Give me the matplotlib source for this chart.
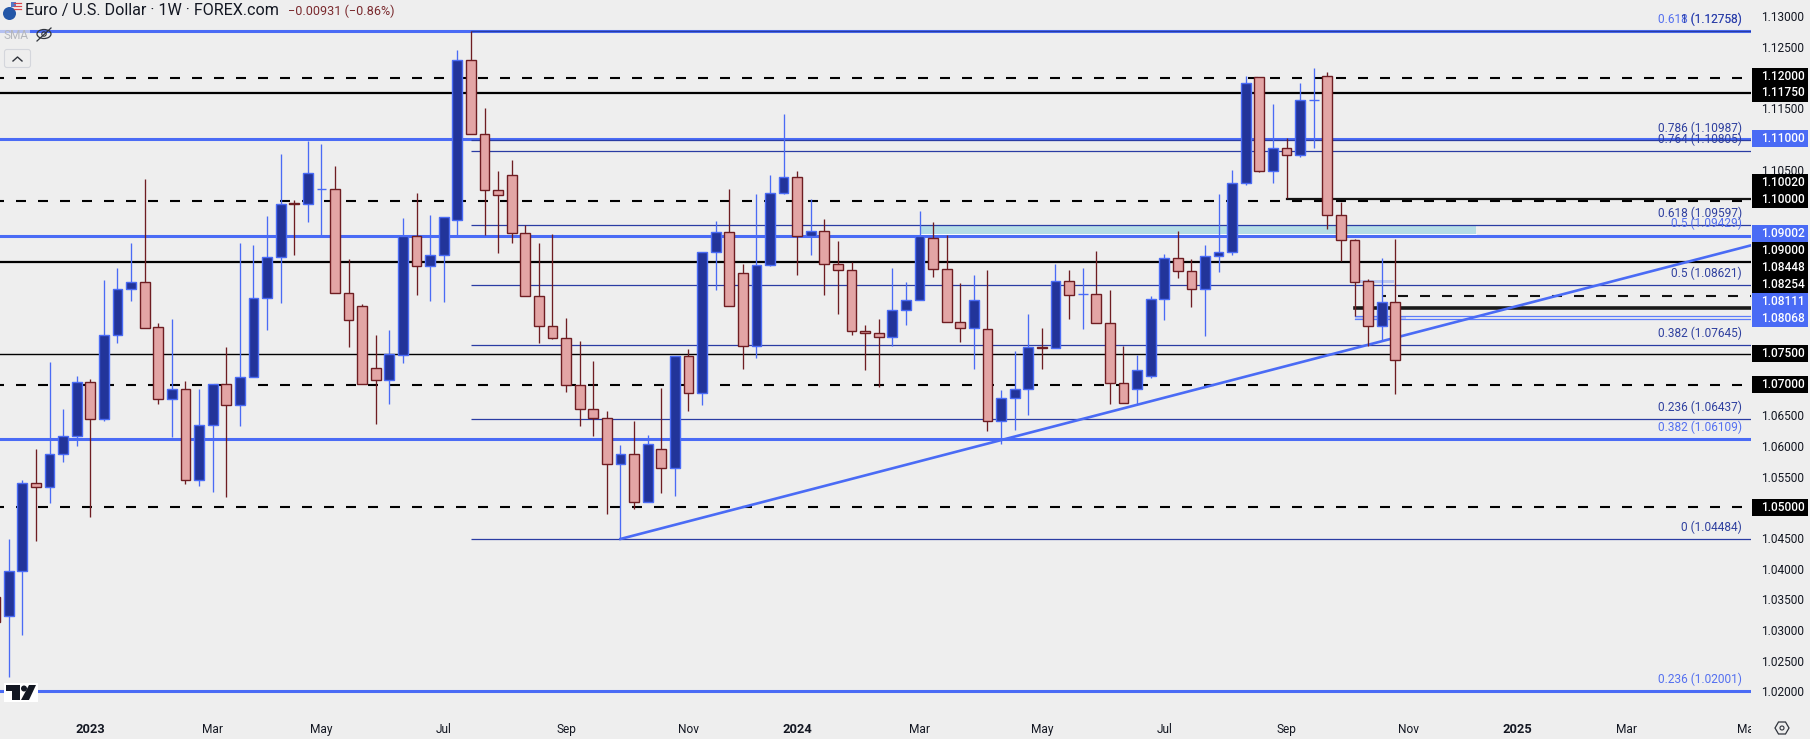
import matplotlib
matplotlib.use("Agg")
import matplotlib.pyplot as plt
import numpy as np
from matplotlib.patches import Circle, Ellipse, FancyBboxPatch, Polygon, Rectangle
from matplotlib.lines import Line2D
from matplotlib.transforms import Affine2D, Bbox

WIDTH = 1810
HEIGHT = 739
PANE_RIGHT = 1751
PANE_BOTTOM = 713

BG = "#EEEEEE"
BLUE_EDGE = "#4A6BF5"
BLUE_FILL = "#22349A"
RED_EDGE = "#6E1D22"
RED_FILL = "#E3A5A5"
NAVY = "#2A3CA3"
TEXT = "#131722"
FONT = "Roboto"

# weekly candles, first bar is index -7, index 0 is the first week of 2023
FIRST_BAR = -7
OPEN = [
    1.03537, 1.03228, 1.03967, 1.05401, 1.05330, 1.05874, 1.06167, 1.07042, 1.06444, 1.07813,
    1.08563, 1.08677, 1.07944, 1.06770, 1.06933, 1.05450, 1.06346, 1.07015, 1.06672, 1.07129,
    1.08416, 1.09085, 1.09959, 1.09948, 1.10190, 1.10193, 1.08498, 1.08286, 1.07275, 1.07080,
    1.07487, 1.09427, 1.08938, 1.09117, 1.09688, 1.12296, 1.11089, 1.10177, 1.10421, 1.09476,
    1.08449, 1.07960, 1.07764, 1.06998, 1.06607, 1.06460, 1.05711, 1.05874, 1.05086, 1.05955,
    1.05640, 1.07471, 1.06862, 1.09166, 1.09492, 1.08824, 1.07628, 1.08954, 1.10128, 1.10388,
    1.09427, 1.09508, 1.08970, 1.08873, 1.07878, 1.07846, 1.07775, 1.08221, 1.08384, 1.09394,
    1.08889, 1.08025, 1.07922, 1.07911, 1.06412, 1.06786, 1.06933, 1.07612, 1.07596, 1.08693,
    1.08476, 1.08482, 1.08009, 1.07031, 1.06933, 1.07140, 1.08400, 1.09068, 1.08856, 1.08563,
    1.09101, 1.09166, 1.10291, 1.12013, 1.10486, 1.10861, 1.10747, 1.11638, 1.12035, 1.09769,
    1.09362, 1.08693, 1.07960, 1.08351,
]
HIGH = [
    1.03537, 1.04488, 1.05450, 1.05955, 1.07368, 1.06596, 1.07134, 1.07096, 1.08699, 1.08894,
    1.09302, 1.10345, 1.08003, 1.08063, 1.07053, 1.06922, 1.07015, 1.07612, 1.09302, 1.09269,
    1.09742, 1.10763, 1.10003, 1.10964, 1.10926, 1.10557, 1.09052, 1.08319, 1.07802, 1.07884,
    1.09720, 1.10128, 1.09769, 1.09731, 1.12459, 1.12763, 1.11513, 1.10475, 1.10655, 1.09606,
    1.09313, 1.09459, 1.08090, 1.07705, 1.07379, 1.06564, 1.06010, 1.06401, 1.06172, 1.06949,
    1.07471, 1.07574, 1.09166, 1.09660, 1.10182, 1.08960, 1.10100, 1.10410, 1.11404, 1.10475,
    1.10019, 1.09693, 1.09334, 1.08998, 1.07965, 1.08063, 1.08894, 1.08666, 1.09823, 1.09644,
    1.09432, 1.08650, 1.08780, 1.08862, 1.06906, 1.07542, 1.08145, 1.07917, 1.08960, 1.08862,
    1.08894, 1.09172, 1.08536, 1.07623, 1.07477, 1.08438, 1.09123, 1.09498, 1.09041, 1.09269,
    1.10100, 1.10492, 1.12024, 1.12013, 1.11568, 1.11024, 1.11910, 1.12154, 1.12100, 1.09981,
    1.09378, 1.08726, 1.09068, 1.09378,
]
LOW = [
    1.03130, 1.02234, 1.02913, 1.04445, 1.05070, 1.05732, 1.05993, 1.04841, 1.06406, 1.07677,
    1.08362, 1.07927, 1.06683, 1.06145, 1.05374, 1.05341, 1.05249, 1.05167, 1.06319, 1.07129,
    1.07884, 1.08329, 1.09106, 1.09650, 1.09443, 1.08498, 1.07612, 1.07015, 1.06363, 1.06683,
    1.07351, 1.08454, 1.08362, 1.08346, 1.09443, 1.11089, 1.09443, 1.09144, 1.09307, 1.08449,
    1.07677, 1.07743, 1.06879, 1.06325, 1.06162, 1.04885, 1.04488, 1.04966, 1.05086, 1.05233,
    1.05178, 1.06564, 1.06667, 1.08536, 1.08286, 1.07254, 1.07433, 1.08932, 1.10106, 1.08780,
    1.09112, 1.08454, 1.08145, 1.07802, 1.07232, 1.06960, 1.07623, 1.07965, 1.08384, 1.08753,
    1.08025, 1.07688, 1.07254, 1.06238, 1.06026, 1.06254, 1.06499, 1.07254, 1.07596, 1.08063,
    1.07900, 1.08003, 1.06683, 1.06700, 1.06683, 1.07107, 1.08047, 1.08737, 1.08259, 1.07792,
    1.08835, 1.09112, 1.10247, 1.10459, 1.10280, 1.10035, 1.10709, 1.10856, 1.09535, 1.09014,
    1.08112, 1.07628, 1.07710, 1.06846,
]
CLOSE = [
    1.03130, 1.03967, 1.05401, 1.05330, 1.05874, 1.06167, 1.07042, 1.06444, 1.07813, 1.08563,
    1.08677, 1.07927, 1.06765, 1.06933, 1.05450, 1.06346, 1.07015, 1.06672, 1.07129, 1.08416,
    1.09085, 1.09948, 1.09948, 1.10454, 1.10193, 1.08498, 1.08058, 1.07015, 1.07080, 1.07493,
    1.09427, 1.08938, 1.09117, 1.09731, 1.12296, 1.11089, 1.10177, 1.10095, 1.09476, 1.08449,
    1.07960, 1.07764, 1.06998, 1.06607, 1.06460, 1.05711, 1.05874, 1.05086, 1.06037, 1.05640,
    1.07471, 1.06862, 1.09166, 1.09492, 1.08286, 1.07628, 1.08954, 1.10128, 1.10388, 1.09427,
    1.09508, 1.08970, 1.08873, 1.07878, 1.07846, 1.07775, 1.08221, 1.08384, 1.09416, 1.08889,
    1.08025, 1.07922, 1.08384, 1.06412, 1.06786, 1.06933, 1.07618, 1.07601, 1.08693, 1.08460,
    1.08482, 1.08003, 1.07031, 1.06700, 1.07243, 1.08400, 1.09068, 1.08851, 1.08563, 1.09101,
    1.09166, 1.10291, 1.11921, 1.10486, 1.10861, 1.10747, 1.11644, 1.11644, 1.09769, 1.09362,
    1.08677, 1.07960, 1.08351, 1.07406,
]

# horizontal levels
BLUE_LEVELS = [1.12758, 1.11000, 1.09429, 1.06109, 1.02001]
BLACK_DASHED = [1.12000, 1.10000, 1.07000, 1.05000]
BLACK_SOLID = [1.11750, 1.09000]
BLACK_THIN = [1.07500]
FIB_START = 28
FIB_NAVY_LEVELS = [1.12758, 1.10987, 1.10805, 1.09597, 1.08621, 1.07645, 1.06437, 1.04484]
FIB_NAVY_TEXT = ["1 (1.12758)", "0.786 (1.10987)", "0.764 (1.10805)", "0.618 (1.09597)",
                 "0.5 (1.08621)", "0.382 (1.07645)", "0.236 (1.06437)", "0 (1.04484)"]
FIB_LIGHT_LEVELS = [1.12758, 1.09429, 1.06109, 1.02001]
FIB_LIGHT_TEXT = ["0.618 (1.12758)", "0.5 (1.09429)", "0.382 (1.06109)", "0.236 (1.02001)"]

TREND_X = [39, 122.16]
TREND_Y = [1.04484, 1.09269]

PRICE_TICKS = [1.13, 1.125, 1.115, 1.105, 1.065, 1.06, 1.055, 1.045,
               1.04, 1.035, 1.03, 1.025, 1.02]
TIME_TICKS = [0, 9, 17, 26, 35, 44, 52, 61, 70, 79, 88, 97, 105, 113, 122]
TIME_LABELS = ["2023", "Mar", "May", "Jul", "Sep", "Nov", "2024", "Mar", "May", "Jul",
               "Sep", "Nov", "2025", "Mar", "May"]

# price tags on the axis: text, colour, centre y in pixels
TAG_TEXT = ["1.12000", "1.11750", "1.11000", "1.10020", "1.10000", "1.09002", "1.09000",
            "1.08448", "1.08254", "1.08111", "1.08068", "1.07500", "1.07000", "1.05000"]
TAG_COLOR = ["#000000", "#000000", BLUE_EDGE, "#000000", "#000000", BLUE_EDGE, "#000000",
             "#000000", "#000000", BLUE_EDGE, BLUE_EDGE, "#000000", "#000000", "#000000"]
TAG_Y = [76, 93, 138.5, 182.5, 199.5, 233.5, 250.5, 267.5, 284.5, 301.5, 318.5, 353.5, 384.5, 507.5]

plt.rcParams["font.family"] = [FONT, "DejaVu Sans"]
plt.rcParams["lines.scale_dashes"] = False

PX = Affine2D().scale(1, -1).translate(0, HEIGHT)


def price_limits():
    # 1.02001 sits at y=691.3 and 1.12758 at y=31.3
    per_px = (1.12758 - 1.02001) / 660.0
    return 1.02001 - (PANE_BOTTOM - 691.3) * per_px, 1.12758 + 31.3 * per_px


def bar_limits():
    # bar 0 is centred on x=90.3, last bar 96 on x=1395.3
    per_bar = (1395.3 - 90.3) / 96
    return -90.3 / per_bar, (PANE_RIGHT - 90.3) / per_bar


def draw_levels(ax, xmax):
    dash = (6 * 0.72, (10 * 0.72, 12 * 0.72))

    for level in BLUE_LEVELS:
        ax.axhline(level, color=BLUE_EDGE, lw=2.2, zorder=2)
    for level in BLACK_DASHED:
        ax.axhline(level, color="black", lw=1.5, ls=dash, zorder=2)
    for level in BLACK_SOLID:
        ax.axhline(level, color="black", lw=1.6, zorder=2)
    for level in BLACK_THIN:
        ax.axhline(level, color="black", lw=1.0, zorder=2)

    ax.hlines(FIB_NAVY_LEVELS, FIB_START, xmax, color=NAVY, lw=0.9, zorder=2)

    # short levels on the right
    ax.plot([88, xmax], [1.10020, 1.10020], color="#111111", lw=1.6, zorder=2)
    ax.plot([95, xmax], [1.08448, 1.08448], color="#111111", lw=1.5, ls=dash, zorder=2)
    ax.plot([93, xmax], [1.08254, 1.08254], color="#1A1A1A", lw=2.6, zorder=2)
    ax.plot([93, xmax], [1.08111, 1.08111], color="#5C7CFA", lw=0.9, zorder=2)
    ax.plot([93, xmax], [1.08068, 1.08068], color="#5C7CFA", lw=0.9, zorder=2)

    # shaded zones
    ax.fill_between([61, 101.9], 1.09459, 1.09597, facecolor="#B5DDE6", edgecolor="none", zorder=1)
    ax.plot([61, 101.9], [1.09459, 1.09459], color="white", lw=0.7, zorder=1.5)
    ax.fill_between([93.4, 95.9], 1.08650, 1.08700, facecolor="#BCC7F0", edgecolor="none", zorder=1)
    ax.fill_between([93, 96.8], 1.08068, 1.08111, facecolor="#BCC7F0", edgecolor="none", zorder=1)

    ax.plot(TREND_X, TREND_Y, color=BLUE_EDGE, lw=1.9, zorder=2.5)


def draw_candles(ax):
    o = np.array(OPEN)
    h = np.array(HIGH)
    l = np.array(LOW)
    c = np.array(CLOSE)
    x = np.arange(FIRST_BAR, FIRST_BAR + len(o))
    up = c >= o

    for mask, edge, fill in [(up, BLUE_EDGE, BLUE_FILL), (~up, RED_EDGE, RED_FILL)]:
        ax.vlines(x[mask], l[mask], h[mask], color=edge, lw=0.95, zorder=3)
        ax.bar(x[mask], (c - o)[mask], bottom=o[mask], width=0.72, color=fill,
               edgecolor=edge, linewidth=1.0, zorder=4)


def draw_fib_labels(ax, xmax):
    for levels, texts, color in [(FIB_LIGHT_LEVELS, FIB_LIGHT_TEXT, "#5470F0"),
                                 (FIB_NAVY_LEVELS, FIB_NAVY_TEXT, "#2F409F")]:
        for level, text in zip(levels, texts):
            ax.annotate(text, xy=(xmax, level), xytext=(-9, 12), textcoords="offset pixels",
                        ha="right", va="center", color=color, fontsize=8.6, zorder=5)


def draw_axis_tags(fig):
    for text, color, y in zip(TAG_TEXT, TAG_COLOR, TAG_Y):
        fig.add_artist(Rectangle((1752, y - 8.5), 56, 17, transform=PX, facecolor=color,
                                 edgecolor="none"))
        fig.text(1760.7, y, text, transform=PX, color="white", fontsize=8.6,
                 fontweight="medium", va="center", ha="left")


def draw_header(fig):
    # symbol icon
    fig.add_artist(Circle((17, 7), 5.5, transform=PX, facecolor="#F4F4F4", edgecolor="none"))
    for y in (3, 6, 9):
        fig.add_artist(Line2D([14, 21], [y, y], transform=PX, color="#D9484D", lw=0.9))
    fig.add_artist(Rectangle((11, 2), 5, 5, transform=PX, facecolor="#5577C8", edgecolor="none"))
    fig.add_artist(Circle((9.5, 13.5), 6.5, transform=PX, facecolor="#2457A8", edgecolor="none"))

    fig.text(25, 11, "Euro / U.S. Dollar · 1W · FOREX.com", transform=PX, color=TEXT,
             fontsize=11.6, va="center", ha="left")
    fig.text(288.5, 11, "\u22120.00931 (\u22120.86%)", transform=PX, color="#7A2A2E",
             fontsize=9.1, va="center", ha="left")

    # muted SMA legend, the pane shows through it
    fig.add_artist(Rectangle((0, 29), 30, 12, transform=PX, facecolor=BG, alpha=0.65,
                             edgecolor="none"))
    fig.text(3, 35.5, "SMA", transform=PX, color="#B4B6BC", fontsize=8.6, va="center")
    fig.add_artist(Ellipse((44, 34), 14, 9, transform=PX, facecolor="none",
                           edgecolor="#30343C", lw=0.9))
    fig.add_artist(Circle((44, 34), 2.2, transform=PX, facecolor="none", edgecolor="#30343C", lw=0.8))
    fig.add_artist(Line2D([37, 51], [41, 28], transform=PX, color="#30343C", lw=0.9))

    # collapse button
    fig.add_artist(FancyBboxPatch((4.5, 49.5), 26, 18, boxstyle="round,pad=0,rounding_size=2.5",
                                  transform=PX, facecolor=BG, edgecolor="#D4D6DC", lw=0.8))
    fig.add_artist(Line2D([13, 17.5, 22], [61, 57, 61], transform=PX, color="#30343C", lw=1.0))


def draw_footer(fig):
    # chart logo
    fig.add_artist(Rectangle((4, 683), 34, 19, transform=PX, facecolor="white", edgecolor="none"))
    fig.add_artist(Polygon([(6, 685), (20, 685), (20, 700), (12, 700), (12, 691), (6, 691)],
                           transform=PX, facecolor="#131722", edgecolor="none"))
    fig.add_artist(Circle((24, 688.5), 3, transform=PX, facecolor="#131722", edgecolor="none"))
    fig.add_artist(Polygon([(29, 685), (36, 685), (29, 700), (21, 700)], transform=PX,
                           facecolor="#131722", edgecolor="none"))

    # settings icon
    hexagon = [(1775, 728), (1778.5, 722), (1785.5, 722), (1789, 728), (1785.5, 734), (1778.5, 734)]
    fig.add_artist(Polygon(hexagon, transform=PX, facecolor="none", edgecolor="#30343C", lw=0.9))
    fig.add_artist(Circle((1782, 728), 2, transform=PX, facecolor="none", edgecolor="#30343C", lw=0.8))


def main():
    fig = plt.figure(figsize=(WIDTH / 100, HEIGHT / 100), dpi=100, facecolor=BG)
    ax = fig.add_axes([0, 1 - PANE_BOTTOM / HEIGHT, PANE_RIGHT / WIDTH, PANE_BOTTOM / HEIGHT])
    ax.set_facecolor(BG)

    xmin, xmax = bar_limits()
    ymin, ymax = price_limits()

    draw_levels(ax, xmax)
    draw_candles(ax)
    draw_fib_labels(ax, xmax)

    ax.set_xlim(xmin, xmax)
    ax.set_ylim(ymin, ymax)

    ax.yaxis.tick_right()
    ax.set_yticks(PRICE_TICKS)
    ax.set_yticklabels([f"{p:.5f}" for p in PRICE_TICKS])
    ax.set_xticks(TIME_TICKS)
    ax.set_xticklabels(TIME_LABELS)
    ax.tick_params(axis="y", length=0, pad=7, labelsize=8.6, labelcolor=TEXT)
    ax.tick_params(axis="x", length=0, pad=7, labelsize=8.6, labelcolor=TEXT)
    for spine in ax.spines.values():
        spine.set_visible(False)

    # year labels are bold, the last month is cut by the price axis
    for label in ax.get_xticklabels():
        if label.get_text().isdigit():
            label.set_fontweight("bold")
            label.set_fontsize(9.3)
        label.set_clip_box(Bbox([[0, 0], [PANE_RIGHT, HEIGHT]]))
        label.set_clip_on(True)

    draw_axis_tags(fig)
    draw_header(fig)
    draw_footer(fig)

    fig.savefig("out.png", dpi=100, facecolor=BG)
    plt.close(fig)


if __name__ == "__main__":
    main()
